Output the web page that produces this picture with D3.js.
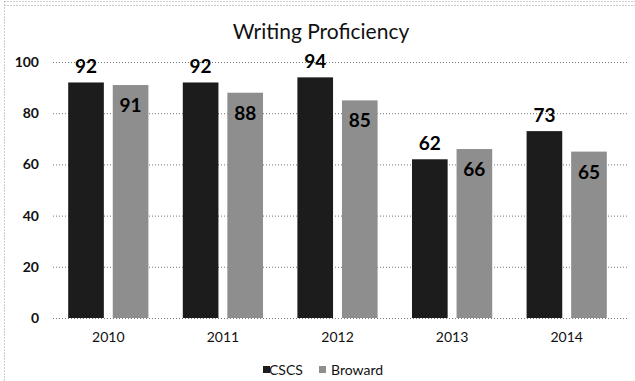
<!DOCTYPE html>
<html>
<head>
<meta charset="utf-8">
<script src="https://cdn.jsdelivr.net/npm/d3@7"></script>
<style>
  html, body { margin: 0; padding: 0; background: #fff; }
  svg text { font-family: Lato, "Open Sans", sans-serif; }
</style>
</head>
<body>
<svg id="chart" width="635" height="381"></svg>
<script>
// values
const years = ['2010', '2011', '2012', '2013', '2014'];
const seriesNames = ['CSCS', 'Broward'];
const cscs = [92, 92, 94, 62, 73];
const broward = [91, 88, 85, 66, 65];
const yTicks = [0, 20, 40, 60, 80, 100];

const colors = { CSCS: '#1c1c1c', Broward: '#8e8e8e' };

const width = 635;
const height = 381;
const svg = d3.select('#chart');

// plot area, measured on the reference
const plot = { left: 51, right: 624, top: 62, bottom: 318 };

const x0 = d3.scaleBand()
  .domain(years)
  .range([plot.left, plot.right])
  .paddingInner(0.3)
  .paddingOuter(0.15);

const x1 = d3.scaleBand()
  .domain(seriesNames)
  .range([0, x0.bandwidth()])
  .paddingInner(0.2);

const y = d3.scaleLinear().domain([0, 100]).range([plot.bottom, plot.top]);

const rows = years.map((yr, i) => ({ year: yr, CSCS: cscs[i], Broward: broward[i] }));

// dotted scan frame: only top and left edges show in the reference
const frame = svg.append('g')
  .attr('fill', 'none')
  .attr('stroke', '#9a9a9a')
  .attr('stroke-dasharray', '1,2');
frame.append('path').attr('d', `M4.5,1.5H${width}`);
frame.append('path').attr('d', `M4.5,5.5H${width}`);
frame.append('path').attr('d', `M4.5,1.5V${height}`);

// title
svg.append('text')
  .attr('x', 321).attr('y', 39)
  .attr('text-anchor', 'middle')
  .attr('font-size', 21)
  .attr('fill', '#111')
  .text('Writing Proficiency');

// gridlines + y labels
const yAxis = d3.axisLeft(y).tickValues(yTicks).tickSize(-(plot.right - plot.left + 2)).tickPadding(14);
const gy = svg.append('g')
  .attr('transform', `translate(${plot.left + 2},0)`)
  .call(yAxis);
gy.select('.domain').remove();
gy.selectAll('.tick line')
  .attr('stroke', '#777')
  .attr('stroke-width', 1)
  .attr('stroke-dasharray', '1,2');
gy.selectAll('.tick text')
  .attr('font-size', 14)
  .attr('font-weight', 'bold')
  .attr('fill', '#111');

// bars
const groups = svg.append('g')
  .selectAll('g')
  .data(rows)
  .join('g')
  .attr('transform', (d) => `translate(${x0(d.year)},0)`);

groups.selectAll('rect')
  .data((d) => seriesNames.map((s) => ({ key: s, value: d[s] })))
  .join('rect')
  .attr('x', (d) => x1(d.key))
  .attr('y', (d) => y(d.value))
  .attr('width', x1.bandwidth())
  .attr('height', (d) => y(0) - y(d.value))
  .attr('fill', (d) => colors[d.key]);

// value labels: CSCS above the bar, Broward inside the top
groups.selectAll('text.val')
  .data((d) => seriesNames.map((s) => ({ key: s, value: d[s] })))
  .join('text')
  .attr('class', 'val')
  .attr('x', (d) => x1(d.key) + x1.bandwidth() / 2)
  .attr('y', (d) => (d.key === 'CSCS' ? y(d.value) - 9 : y(d.value) + 27))
  .attr('text-anchor', 'middle')
  .attr('font-size', 19)
  .attr('font-weight', 'bold')
  .attr('fill', '#000')
  .text((d) => d.value);

// x labels
const xAxis = d3.axisBottom(x0).tickSize(0).tickPadding(14);
const gx = svg.append('g')
  .attr('transform', `translate(0,${plot.bottom})`)
  .call(xAxis);
gx.select('.domain')
  .attr('stroke', '#777')
  .attr('stroke-dasharray', '1,2')
  .attr('d', `M${plot.left + 2},0.5H${plot.right + 1}`);
gx.selectAll('.tick text')
  .attr('font-size', 14)
  .attr('fill', '#111');

// legend
const legendItems = [
  { key: 'CSCS', sx: 263, tx: 269 },
  { key: 'Broward', sx: 319, tx: 331 }
];
const lg = svg.append('g');
lg.selectAll('rect')
  .data(legendItems)
  .join('rect')
  .attr('x', (d) => d.sx).attr('y', 366)
  .attr('width', 7).attr('height', 7)
  .attr('fill', (d) => colors[d.key]);
lg.selectAll('text')
  .data(legendItems)
  .join('text')
  .attr('x', (d) => d.tx).attr('y', 375)
  .attr('font-size', 14)
  .attr('fill', '#111')
  .text((d) => d.key);
</script>
</body>
</html>
